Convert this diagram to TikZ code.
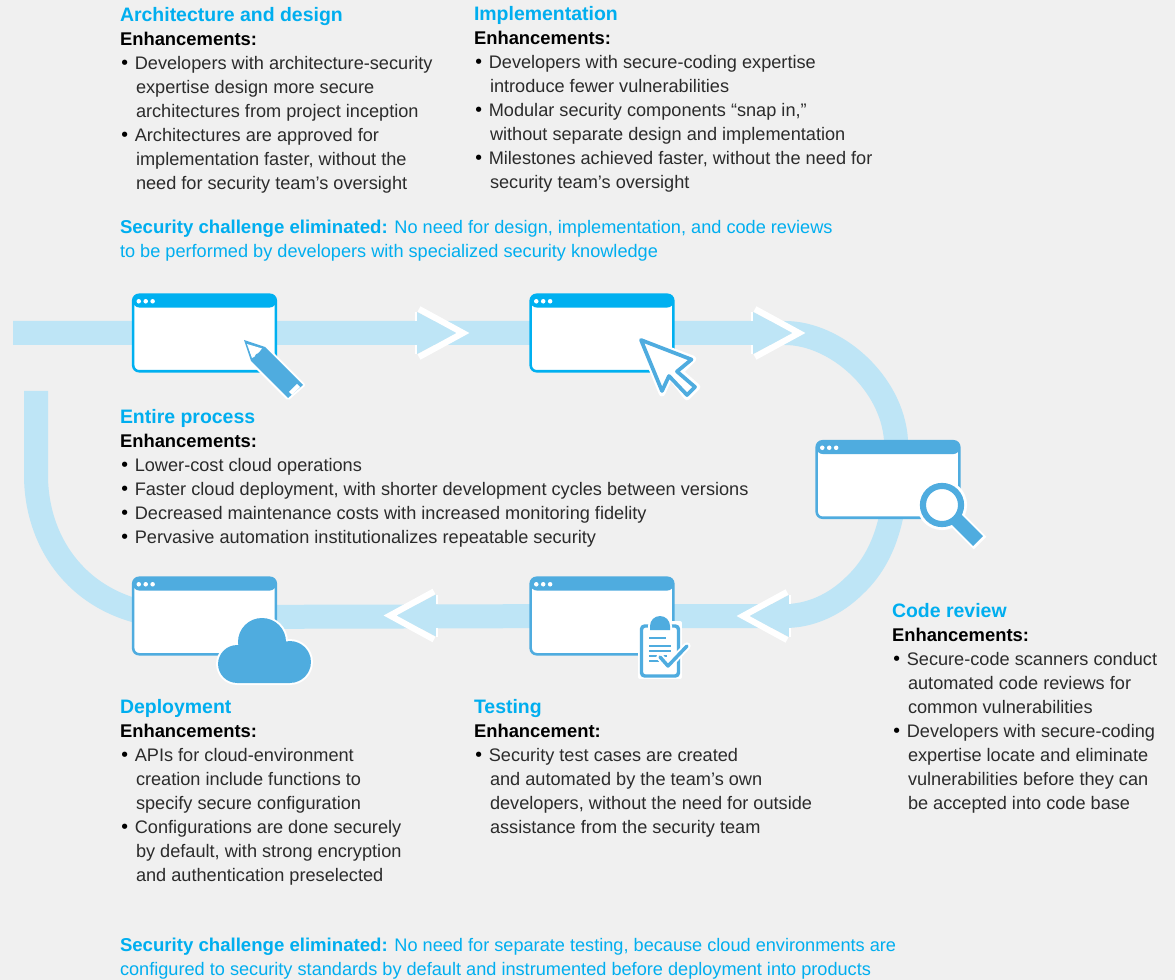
\documentclass[tikz,border=0pt]{standalone}
\usepackage{fontspec}
\setmainfont{Liberation Sans}
\newfontfamily\bulfont{DejaVu Sans}
\usetikzlibrary{calc}
\definecolor{bgc}{HTML}{F0F0F0}
\definecolor{ribbonc}{HTML}{BEE5F6}
\definecolor{cyanc}{HTML}{00B0F0}
\definecolor{bluec}{HTML}{4FACDF}
\definecolor{headc}{HTML}{00AEEF}
\definecolor{inkc}{HTML}{2B2B2B}
\newcommand{\bul}{\makebox[11.1pt][l]{\hspace*{-0.4pt}\color{black}\bulfont\fontsize{13.6pt}{18pt}\selectfont •}}
\newcommand{\cont}{\hspace*{12pt}}
\newcommand{\hd}[1]{{\color{headc}\fontsize{14.6pt}{18pt}\selectfont\bfseries\strut #1}}
\newcommand{\enh}[1]{{\color{black}\fontsize{13.8pt}{18pt}\selectfont\bfseries #1}}
\newcommand{\chl}[1]{{\fontsize{13.95pt}{18pt}\selectfont\bfseries #1}}
\tikzset{
  ribbon/.style={draw=ribbonc,line width=18pt,line cap=butt},
  win/.style={draw=#1,fill=white,line width=1.9pt,rounded corners=4.5pt,minimum width=107pt,minimum height=57.4pt,inner sep=0pt,outer sep=0pt,
    path picture={
      \fill[#1] (path picture bounding box.north west) rectangle ([yshift=-9.6pt]path picture bounding box.north east);
      \fill[white] ([xshift=4.2pt,yshift=-4.9pt]path picture bounding box.north west) circle (1.7pt)
                   ([xshift=9.4pt,yshift=-4.9pt]path picture bounding box.north west) circle (1.7pt)
                   ([xshift=14.6pt,yshift=-4.9pt]path picture bounding box.north west) circle (1.7pt);
    }},
  halo/.style={draw=white,fill=white,line width=#1,line join=round,line cap=round},
  txt/.style={anchor=north west,inner sep=0pt,outer sep=0pt,align=left,text=inkc,font=\fontsize{13.62pt}{18pt}\selectfont},
  chal/.style={txt,text=headc},
  chevline/.style={draw=white,line width=4.6pt,line join=miter,miter limit=10},
}
% arrowhead: origin at head base centre; points along +x of the scope
\newcommand{\headmark}[3]{%
  \begin{scope}[shift={(#1,#2)},xscale=#3]
    \fill[ribbonc] (-2,-21) -- (38,0) -- (-2,21) -- cycle;
    \draw[white,line width=1.6pt] (-3,-21) -- (-3,-12) (-3,12) -- (-3,21);
    \draw[chevline] (0,-24) -- (44,0) -- (0,24);
  \end{scope}}
\begin{document}
\begin{tikzpicture}[x=0.75pt,y=-0.75pt]
\useasboundingbox (0,0) rectangle (1175,980);
\fill[bgc] (0,0) rectangle (1175,980);

% windows are placed first as coordinates so that ribbons can run behind them
\coordinate (pw1) at (204.5,333);
\coordinate (pw2) at (602,333);
\coordinate (pw3) at (888,479.5);
\coordinate (pw4) at (602,616);
\coordinate (pw5) at (204.5,616);
\coordinate (rstart) at (13,333);
\coordinate (rbend) at (785,333);
\coordinate (rside) at (896,440);
\coordinate (rlow) at (855,585);
\coordinate (rbot) at (785,616);
\coordinate (rtop) at (36,391);
\coordinate (rleft) at (36,475);
\coordinate (rland) at (150,614);

\draw[ribbon] (rstart) -- (pw1) -- (pw2) -- (rbend)
  .. controls (835,333) and (892,382) .. (rside)
  .. controls (899,500) and (890,552) .. (rlow)
  .. controls (835,605) and (810,616) .. (rbot) -- (pw4);
\draw[ribbon] (pw4) -- ([yshift=-0.75pt]pw4 -| pw5);
\draw[ribbon] (rtop) -- (rleft) .. controls (36,540) and (75,600) .. (rland);

\headmark{419}{333}{1}
\headmark{755}{333}{1}
\headmark{787}{616}{-1}
\headmark{434}{615.5}{-1}

\node[win=cyanc] (w1) at (pw1) {};
\node[win=cyanc] (w2) at (pw2) {};
\node[win=bluec] (w3) at (pw3) {};
\node[win=bluec] (w4) at (pw4) {};
\node[win=bluec] (w5) at (pw5) {};

% pencil
\path[halo=3pt] (244,340) -- (265,347) -- (303,385) -- (288,398) -- (251,361) -- cycle;
\fill[bluec] (244,340) -- (265,347) -- (303,385) -- (288,398) -- (251,361) -- cycle;
\fill[white] (247,344) -- (262,348.5) .. controls (260,351) and (258,354) .. (256,354) .. controls (255,356) and (254,358) .. (252,358) -- cycle;
\draw[white,line width=3.4pt] (290.5,393.5) -- (298.5,385.5);

% cursor
\path[halo=5pt] (640,339) -- (693,359) -- (680,372) -- (697,387) -- (687,397) -- (670,375) -- (662,393) -- cycle;
\draw[bluec,fill=white,line width=2.8pt,line join=round] (641,340) -- (691.5,359.5) -- (677,371.5) -- (695,387) -- (687,395) -- (669,376) -- (662,391) -- cycle;

% magnifier
\draw[white,line width=13.5pt] (956,519) -- (980,543);
\fill[white] (942,505) circle (18.8pt);
\draw[bluec,line width=10.5pt] (956,519) -- (978,541);
\draw[bluec,fill=white,line width=4.6pt] (942,505) circle (14.3pt);

% cloud
\path[halo=3pt] (237,664) circle (14.2pt) (262,642) circle (18pt) (290,662) circle (15.7pt) (237,664) rectangle (290,683);
\fill[bluec] (237,664) circle (14.2pt) (262,642) circle (18pt) (290,662) circle (15.7pt) (237,664) rectangle (290,683);

% clipboard
\path[halo=3pt] (640,623) rectangle (680,677);
\draw[bluec,fill=white,line width=2.6pt,rounded corners=2.5pt] (641.5,626) rectangle (678.5,676);
\path[halo=3pt] (650,630) -- (650,626) arc[start angle=180,end angle=0,radius=7.5pt] -- (670,630) -- cycle;
\fill[bluec] (650,630) -- (650,626) arc[start angle=180,end angle=0,radius=7.5pt] -- (670,630) -- cycle;
\draw[bluec,line width=1.7pt] (649,638) -- (666,638) (649,646) -- (671,646) (649,651) -- (671,651) (649,656) -- (667,656) (649,661) -- (659,661);
\draw[white,line width=5.5pt,line cap=round,line join=round] (660,657) -- (668,666) -- (687,646);
\draw[bluec,line width=2.6pt,line cap=round,line join=round] (660,657) -- (668,666) -- (687,646);

% texts
\node[txt] (tarch) at (120,5.2) {\hd{Architecture and design}\\ \enh{Enhancements:}\\
\bul Developers with architecture-security\\ \cont expertise design more secure\\ \cont architectures from project inception\\
\bul Architectures are approved for\\ \cont implementation faster, without the\\ \cont need for security team’s oversight};

\node[txt] (timpl) at (474,4.2) {\hd{Implementation}\\ \enh{Enhancements:}\\
\bul Developers with secure-coding expertise\\ \cont introduce fewer vulnerabilities\\
\bul Modular security components “snap in,”\\ \cont without separate design and implementation\\
\bul Milestones achieved faster, without the need for\\ \cont security team’s oversight};

\node[chal] (tchal1) at (120,217.2) {\strut\chl{Security challenge eliminated:} No need for design, implementation, and code reviews\\ to be performed by developers with specialized security knowledge};

\node[txt] (tproc) at (120,406.2) {\hd{Entire process}\\ \enh{Enhancements:}\\
\bul Lower-cost cloud operations\\
\bul Faster cloud deployment, with shorter development cycles between versions\\
\bul Decreased maintenance costs with increased monitoring fidelity\\
\bul Pervasive automation institutionalizes repeatable security};

\node[txt] (tdepl) at (120,696.2) {\hd{Deployment}\\ \enh{Enhancements:}\\
\bul APIs for cloud-environment\\ \cont creation include functions to\\ \cont specify secure configuration\\
\bul Configurations are done securely\\ \cont by default, with strong encryption\\ \cont and authentication preselected};

\node[txt] (ttest) at (474,696.2) {\hd{Testing}\\ \enh{Enhancement:}\\
\bul Security test cases are created\\ \cont and automated by the team’s own\\ \cont developers, without the need for outside\\ \cont assistance from the security team};

\node[txt] (tcode) at (892,600.2) {\hd{Code review}\\ \enh{Enhancements:}\\
\bul Secure-code scanners conduct\\ \cont automated code reviews for\\ \cont common vulnerabilities\\
\bul Developers with secure-coding\\ \cont expertise locate and eliminate\\ \cont vulnerabilities before they can\\ \cont be accepted into code base};

\node[chal] (tchal2) at (120,934.2) {\strut\chl{Security challenge eliminated:} No need for separate testing, because cloud environments are\\ configured to security standards by default and instrumented before deployment into products};
\end{tikzpicture}
\end{document}
